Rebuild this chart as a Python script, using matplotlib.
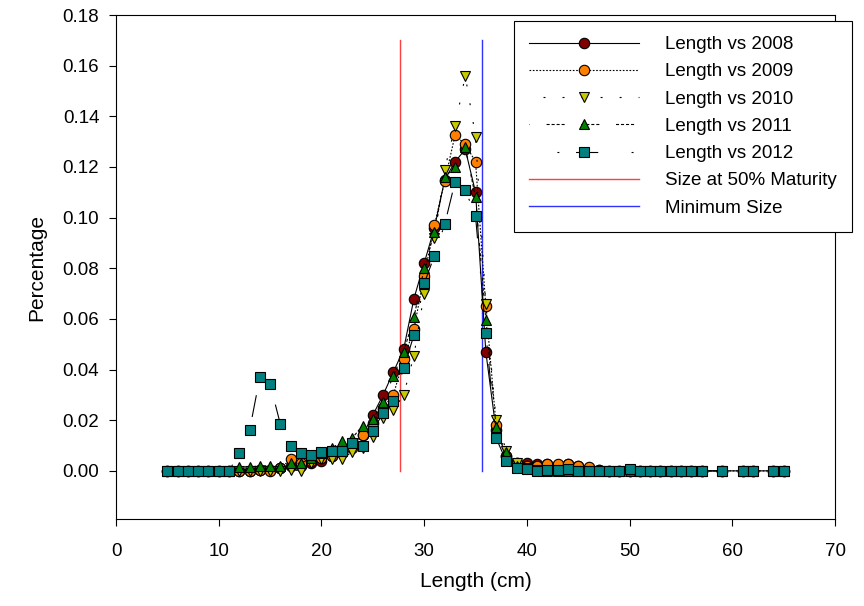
import matplotlib
matplotlib.use('Agg')
import matplotlib.pyplot as plt

plt.rcParams['font.family'] = ['Liberation Sans', 'DejaVu Sans']
plt.rcParams['lines.scale_dashes'] = False

# lengths (cm) and proportion per year
lengths = [5, 6, 7, 8, 9, 10, 11, 12, 13, 14, 15, 16, 17, 18, 19, 20, 21, 22, 23, 24,
           25, 26, 27, 28, 29, 30, 31, 32, 33, 34, 35, 36, 37, 38, 39, 40, 41, 42, 43, 44,
           45, 46, 47, 48, 49, 50, 51, 52, 53, 54, 55, 56, 57, 59, 61, 62, 64, 65]

y2008 = [0, 0, 0, 0, 0, 0, 0, 0, 0, 0.0005, 0.0005, 0.001, 0.002, 0.002, 0.003, 0.004,
         0.006, 0.008, 0.0105, 0.014, 0.022, 0.030, 0.039, 0.048, 0.068, 0.082, 0.096,
         0.115, 0.122, 0.127, 0.110, 0.047, 0.016, 0.006, 0.003, 0.003, 0.0028, 0.0026,
         0.0024, 0.0026, 0.002, 0.001, 0.0005, 0, 0, 0, 0, 0, 0, 0, 0, 0, 0, 0, 0, 0, 0, 0]

y2009 = [0, 0, 0, 0, 0, 0, 0, 0, 0, 0.0005, 0, 0.001, 0.0046, 0.003, 0.004, 0.005,
         0.006, 0.007, 0.009, 0.0142, 0.019, 0.025, 0.030, 0.044, 0.056, 0.077, 0.097,
         0.1145, 0.1325, 0.129, 0.122, 0.065, 0.018, 0.006, 0.003, 0.002, 0.002, 0.0028,
         0.0028, 0.0028, 0.0018, 0.0015, 0.0005, 0, 0, 0, 0, 0, 0, 0, 0, 0, 0, 0, 0, 0, 0, 0]

y2010 = [0, 0, 0, 0, 0, 0, 0, 0, 0, 0, 0, 0, 0.0005, 0.0, 0.0033, 0.0045,
         0.0045, 0.0046, 0.0076, 0.009, 0.0135, 0.021, 0.024, 0.030, 0.0455, 0.070, 0.092,
         0.119, 0.136, 0.156, 0.132, 0.066, 0.020, 0.008, 0.003, 0.001, 0.0005, 0,
         0, 0, 0, 0, 0, 0, 0, 0, 0, 0, 0, 0, 0, 0, 0, 0, 0, 0, 0, 0]

y2011 = [0, 0, 0, 0, 0, 0, 0, 0.0015, 0.0015, 0.002, 0.002, 0.002, 0.003, 0.003, 0.005, 0.007,
         0.009, 0.0116, 0.013, 0.0178, 0.0204, 0.0273, 0.0375, 0.047, 0.0606, 0.080, 0.0944,
         0.116, 0.120, 0.1277, 0.108, 0.0596, 0.0175, 0.0076, 0.002, 0.001, 0.0005, 0,
         0, 0, 0, 0, 0, 0, 0, 0, 0, 0, 0, 0, 0, 0, 0, 0, 0, 0, 0, 0]

y2012 = [0, 0, 0, 0, 0, 0, 0, 0.0071, 0.016, 0.037, 0.0343, 0.0184, 0.0099, 0.007, 0.0063, 0.0076,
         0.008, 0.008, 0.011, 0.010, 0.0159, 0.0228, 0.0277, 0.0405, 0.0536, 0.074, 0.085,
         0.0974, 0.114, 0.111, 0.1006, 0.0543, 0.013, 0.0037, 0.001, 0.0008, 0.0, 0.0004,
         0.0004, 0.0008, 0.0, 0, 0, 0, 0, 0.0006, 0, 0, 0, 0, 0, 0, 0, 0, 0, 0, 0, 0]

size_50_maturity = 27.65
minimum_size = 35.6
vline_top = 0.17

fig = plt.figure(figsize=(8.64, 6.06), dpi=100)
ax = fig.add_axes([0.1343, 0.1436, 0.8322, 0.8316])

ax.plot([size_50_maturity, size_50_maturity], [0, vline_top], color='#ff4040', lw=1.0,
        label='Size at 50% Maturity', zorder=1)
ax.plot([minimum_size, minimum_size], [0, vline_top], color='#3030ff', lw=1.0,
        label='Minimum Size', zorder=1)

series = [
  (y2008, 'Length vs 2008', 'o', '#800000', '-'),
  (y2009, 'Length vs 2009', 'o', '#ff8000', (0, (1.2, 1.2))),
  (y2010, 'Length vs 2010', 'v', '#c8c800', (3.6, (1.4, 12.3))),
  (y2011, 'Length vs 2011', '^', '#008000', (12.7, (2.2, 1.4, 2.2, 1.4, 2.2, 1.4, 2.2, 12))),
  (y2012, 'Length vs 2012', 's', '#008080', (33.3, (1.4, 12, 16, 24))),
]
handles = []
for i, (yv, lab, mk, col, ls) in enumerate(series):
  h, = ax.plot(lengths, yv, color='black', lw=0.8, linestyle=ls, marker=mk,
               markersize=7.5, markerfacecolor=col, markeredgecolor='black',
               markeredgewidth=0.8, label=lab, zorder=2 + i)
  handles.append(h)

handles = handles + ax.get_lines()[:2]

ax.set_xlim(0, 70)
ax.set_ylim(-0.019, 0.18)
ax.set_xticks([0, 10, 20, 30, 40, 50, 60, 70])
ax.set_yticks([0.00, 0.02, 0.04, 0.06, 0.08, 0.10, 0.12, 0.14, 0.16, 0.18])
ax.set_yticklabels(['%.2f' % v for v in ax.get_yticks()])
ax.tick_params(direction='out', length=5, width=0.8, labelsize=13.5, top=False, right=False)
ax.tick_params(axis='x', pad=12)
ax.tick_params(axis='y', pad=7)
for sp in ax.spines.values():
  sp.set_linewidth(0.8)

ax.set_xlabel('Length (cm)', fontsize=15, labelpad=9)
ax.set_ylabel('Percentage', fontsize=15, labelpad=12)

leg = fig.legend(handles=handles, labels=[h.get_label() for h in handles],
                 loc='upper left', bbox_to_anchor=(0.595, 0.9653),
                 bbox_transform=fig.transFigure, fontsize=13.5, numpoints=1,
                 handlelength=5.87, handletextpad=1.39, labelspacing=0.54,
                 borderpad=0.8, borderaxespad=0, fancybox=False, framealpha=1,
                 edgecolor='black')
leg.get_frame().set_linewidth(0.8)

fig.savefig('out.png', dpi=100)
